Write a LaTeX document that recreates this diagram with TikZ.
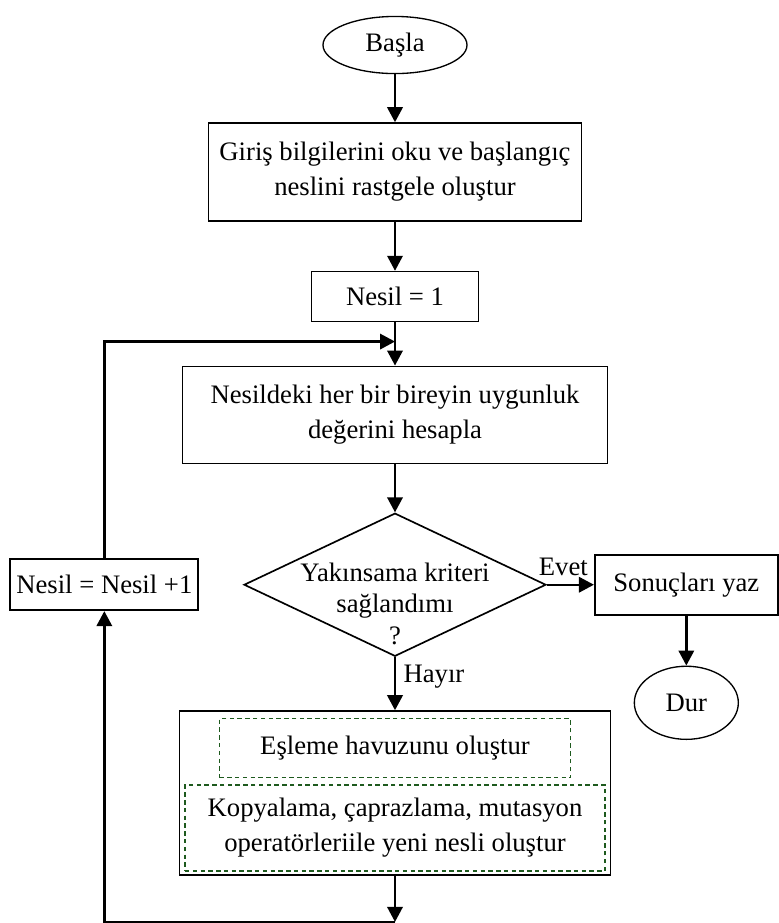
\documentclass[tikz,border=0pt]{standalone}
\usepackage{fontspec}
\setmainfont{Liberation Serif}
\usetikzlibrary{positioning,shapes.geometric,arrows.meta}
\definecolor{poolgreen}{RGB}{30,90,30}

\begin{document}
\begin{tikzpicture}[x=0.45pt, y=0.45pt, font=\fontsize{12}{15.75}\selectfont,
  block/.style={draw, line width=0.75pt, align=center, inner sep=0pt},
  term/.style={draw, ellipse, line width=0.6pt, inner sep=0pt},
  pool/.style={draw=poolgreen, dash pattern=on 2pt off 1.5pt, line width=0.5pt, align=center, inner sep=0pt},
  arr/.style={-{Triangle[length=6.75pt, width=6.9pt]}, line width=1.1pt}]

  \useasboundingbox (0,0) rectangle (779,-923);

  % Main column
  \node[term, minimum width=64.8pt, minimum height=25.7pt] (start) at (395,-45) {Başla};
  \node[block, below=21.6pt of start, minimum width=167.9pt, minimum height=44.1pt] (init) {Giriş bilgilerini oku ve başlangıç\\neslini rastgele oluştur};
  \node[block, below=22pt of init, minimum width=75.2pt, minimum height=22.5pt] (nes1) {Nesil = 1};
  \node[block, below=19.4pt of nes1, minimum width=191.3pt, minimum height=43.7pt] (eval) {Nesildeki her bir bireyin uygunluk\\değerini hesapla};
  \node[draw, diamond, line width=0.75pt, inner sep=0pt, below=21.6pt of eval, minimum width=135.9pt, minimum height=64.4pt] (dec) {};
  \node[align=center, inner sep=0pt, font=\fontsize{12}{14}\selectfont] (dectext) at ([yshift=-8.6pt]dec.center) {Yakınsama kriteri\\sağlandımı\\?};

  % Genetic operators
  \node[block, below=23.9pt of dec, minimum width=194pt, minimum height=73.8pt] (big) {};
  \node[pool, below=3.6pt of big.north, minimum width=158pt, minimum height=26.6pt] (mate) {Eşleme havuzunu oluştur};
  \node[pool, below=2.7pt of mate, minimum width=189pt, minimum height=38.7pt] (oper) {Kopyalama, çaprazlama, mutasyon\\operatörleriile yeni nesli oluştur};

  % Side nodes
  \node[block, right=21.2pt of dec, minimum width=82.4pt, minimum height=27pt] (res) {Sonuçları yaz};
  \node[term, below=22.5pt of res, minimum width=46.8pt, minimum height=32.9pt] (stop) {Dur};
  \node[block, left=19.8pt of dec, minimum width=84.6pt, minimum height=23pt] (inc) {Nesil = Nesil +1};

  % Helper points
  \coordinate[below=8.6pt of nes1] (join);
  \coordinate[below=20.7pt of big] (bot);

  % Arrows
  \draw[arr] (start) -- (init);
  \draw[arr] (init) -- (nes1);
  \draw[arr] (nes1) -- (eval);
  \draw[arr] (eval) -- (dec);
  \draw[arr] (dec) -- node[above, pos=0.35] {Evet} (res);
  \draw[arr] (res) -- (stop);
  \draw[arr] (dec) -- node[right, pos=0.36] {Hayır} (big);
  \draw[arr] (big) -- (bot);
  \draw[arr] (bot) -| (inc);
  \draw[arr] (inc) |- (join);

\end{tikzpicture}
\end{document}
